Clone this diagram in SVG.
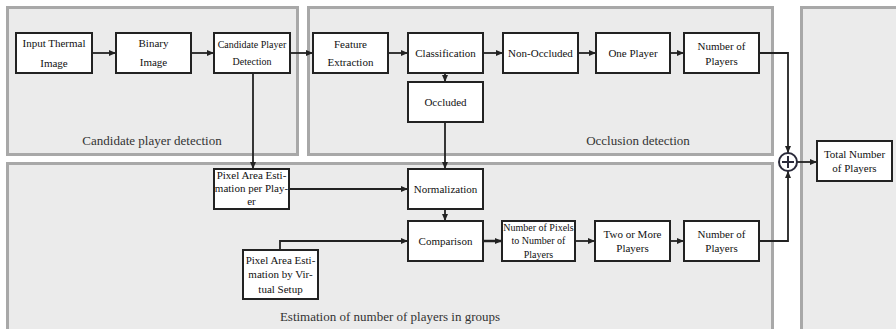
<svg xmlns="http://www.w3.org/2000/svg" width="896" height="329" viewBox="0 0 896 329">
<style>
.panel{fill:#ebebeb;stroke:#a8a8a8;stroke-width:3}
.box{fill:#fff;stroke:#222;stroke-width:2}
.t{font-family:"Liberation Serif","Times New Roman",serif;font-size:11px;fill:#111;text-anchor:middle}
.s{font-size:10px}
.pl{font-family:"Liberation Serif","Times New Roman",serif;font-size:13px;fill:#333;text-anchor:middle}
.c{fill:none;stroke:#222;stroke-width:1.8}
</style>
<defs>
<marker id="ah" markerWidth="7" markerHeight="6" refX="7" refY="3" orient="auto" markerUnits="userSpaceOnUse">
<path d="M0,0 L7,3 L0,6 Z" fill="#222"/>
</marker>
</defs>
<g id="panels">
<rect class="panel" x="7.5" y="7.5" width="290" height="147"/>
<rect class="panel" x="308.5" y="7.5" width="464" height="147"/>
<rect class="panel" x="7.5" y="163.5" width="765" height="180"/>
<rect class="panel" x="801.5" y="7.5" width="110" height="336"/>
<text class="pl" x="152" y="145">Candidate player detection</text>
<text class="pl" x="638" y="145">Occlusion detection</text>
<text class="pl" x="390" y="321">Estimation of number of players in groups</text>
</g>
<g id="connectors">
<path class="c" d="M92,53 H116" marker-end="url(#ah)"/>
<path class="c" d="M191,53 H214" marker-end="url(#ah)"/>
<path class="c" d="M290,53 H313" marker-end="url(#ah)"/>
<path class="c" d="M388,53 H408" marker-end="url(#ah)"/>
<path class="c" d="M483,53 H503" marker-end="url(#ah)"/>
<path class="c" d="M578,53 H596" marker-end="url(#ah)"/>
<path class="c" d="M670,53 H684" marker-end="url(#ah)"/>
<path class="c" d="M445,73 V82" marker-end="url(#ah)"/>
<path class="c" d="M759,53 H788 V153" marker-end="url(#ah)"/>
<path class="c" d="M253,73 V169" marker-end="url(#ah)"/>
<path class="c" d="M445,122 V169" marker-end="url(#ah)"/>
<path class="c" d="M289,189 H408" marker-end="url(#ah)"/>
<path class="c" d="M445,209 V221" marker-end="url(#ah)"/>
<path class="c" d="M280,250 V241 H408" marker-end="url(#ah)"/>
<path class="c" d="M483,241 H502" marker-end="url(#ah)" style="stroke-width:2.5"/>
<path class="c" d="M575,241 H595" marker-end="url(#ah)"/>
<path class="c" d="M670,241 H684" marker-end="url(#ah)"/>
<path class="c" d="M759,241 H788 V171" marker-end="url(#ah)"/>
<path class="c" d="M797,162 H817" marker-end="url(#ah)"/>
</g>
<g id="sum">
<circle cx="788" cy="162" r="9" fill="#fff" stroke="#2a2a3a" stroke-width="2"/>
<path d="M782,162 H794 M788,156 V168" stroke="#2a2a3a" stroke-width="2"/>
</g>
<g id="input"><rect class="box" x="16" y="33" width="76" height="40"/><text class="t" x="54" y="47">Input Thermal</text><text class="t" x="54" y="67">Image</text></g>
<g id="binary"><rect class="box" x="116" y="33" width="75" height="40"/><text class="t" x="153.5" y="47">Binary</text><text class="t" x="153.5" y="66">Image</text></g>
<g id="candidate"><rect class="box" x="214" y="33" width="76" height="40"/><text class="t s" x="252" y="48">Candidate Player</text><text class="t s" x="252" y="65">Detection</text></g>
<g id="feature"><rect class="box" x="313" y="33" width="75" height="40"/><text class="t" x="350.5" y="48">Feature</text><text class="t" x="350.5" y="66">Extraction</text></g>
<g id="classification"><rect class="box" x="408" y="33" width="75" height="40"/><text class="t" x="445.5" y="57">Classification</text></g>
<g id="nonoccluded"><rect class="box" x="503" y="33" width="75" height="40"/><text class="t" x="540.5" y="57">Non-Occluded</text></g>
<g id="oneplayer"><rect class="box" x="596" y="33" width="74" height="40"/><text class="t" x="633" y="57">One Player</text></g>
<g id="num1"><rect class="box" x="684" y="33" width="75" height="40"/><text class="t" x="721.5" y="50">Number of</text><text class="t" x="721.5" y="65">Players</text></g>
<g id="occluded"><rect class="box" x="408" y="82" width="75" height="40"/><text class="t" x="445.5" y="106">Occluded</text></g>
<g id="pixelper"><rect class="box" x="214" y="169" width="75" height="40"/><text class="t" x="251.5" y="179">Pixel Area Esti-</text><text class="t" x="251.5" y="192">mation per Play-</text><text class="t" x="251.5" y="205">er</text></g>
<g id="normalization"><rect class="box" x="408" y="169" width="75" height="40"/><text class="t" x="445.5" y="193">Normalization</text></g>
<g id="comparison"><rect class="box" x="408" y="221" width="75" height="40"/><text class="t" x="445.5" y="245">Comparison</text></g>
<g id="pixelvirtual"><rect class="box" x="243" y="250" width="75" height="49"/><text class="t" x="280.5" y="264">Pixel Area Esti-</text><text class="t" x="280.5" y="278">mation by Vir-</text><text class="t" x="280.5" y="293">tual Setup</text></g>
<g id="pixtoplayers"><rect class="box" x="502" y="221" width="73" height="40"/><text class="t s" x="538.5" y="231">Number of Pixels</text><text class="t s" x="538.5" y="244">to Number of</text><text class="t s" x="538.5" y="258">Players</text></g>
<g id="twomore"><rect class="box" x="595" y="221" width="75" height="40"/><text class="t" x="632.5" y="238">Two or More</text><text class="t" x="632.5" y="252">Players</text></g>
<g id="num2"><rect class="box" x="684" y="221" width="75" height="40"/><text class="t" x="721.5" y="238">Number of</text><text class="t" x="721.5" y="252">Players</text></g>
<g id="total"><rect class="box" x="817" y="141" width="75" height="40"/><text class="t" x="854.5" y="158">Total Number</text><text class="t" x="854.5" y="172">of Players</text></g>
</svg>
